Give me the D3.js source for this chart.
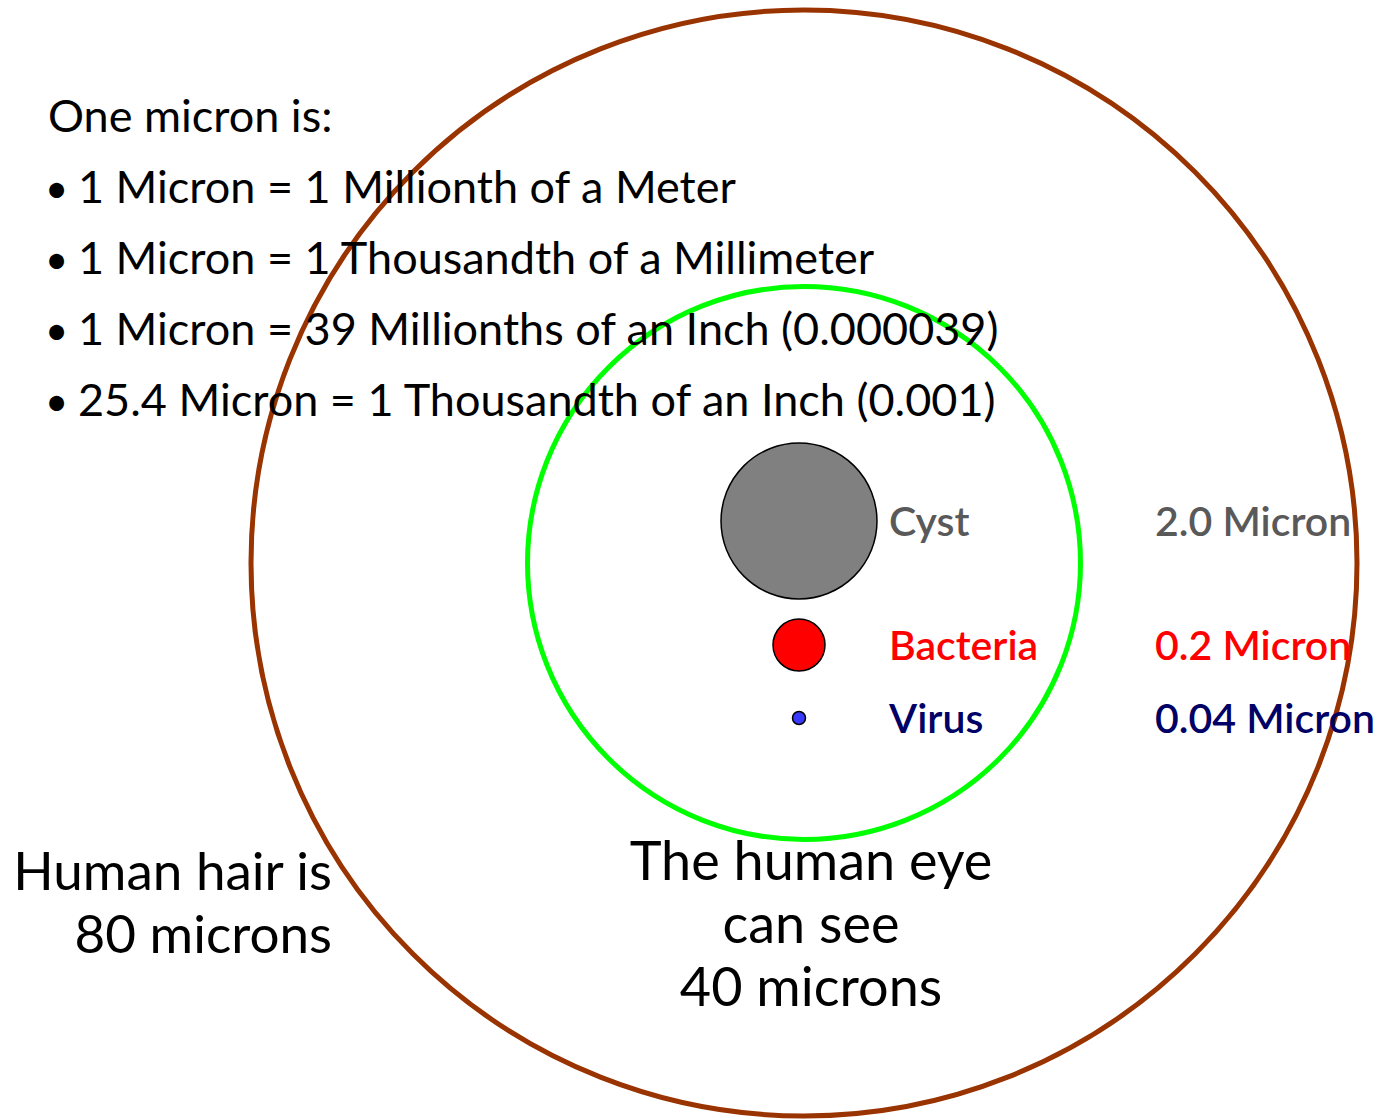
<!DOCTYPE html>
<html>
<head>
<meta charset="utf-8">
<script src="https://cdn.jsdelivr.net/npm/d3@7"></script>
<style>
  body { margin: 0; background: #fff; }
  svg { display: block; font-family: Lato, "Noto Sans", sans-serif; }
</style>
</head>
<body>
<script>
// rings: what the eye / a hair can resolve, in microns
var rings = ["Human hair", "Human eye"];
var ringMicrons = [80, 40];
var ringColors = ["#993300", "#00ff00"];

// particles drawn inside
var particles = ["Cyst", "Bacteria", "Virus"];
var particleMicrons = [2.0, 0.2, 0.04];
var particleSizeLabels = ["2.0 Micron", "0.2 Micron", "0.04 Micron"];
var particleFills = ["#808080", "#ff0000", "#3a3aff"];
var particleTextColors = ["#595959", "#ff0000", "#000066"];

var introTitle = "One micron is:";
var introLines = [
  "1 Micron = 1 Millionth of a Meter",
  "1 Micron = 1 Thousandth of a Millimeter",
  "1 Micron = 39 Millionths of an Inch (0.000039)",
  "25.4 Micron = 1 Thousandth of an Inch (0.001)"
];
var hairText = ["Human hair is", "80 microns"];
var eyeText = ["The human eye", "can see", "40 microns"];

var width = 1385,
    height = 1120,
    cx = 804,
    cy = 563;

var svg = d3.select("body").append("svg")
    .attr("width", width)
    .attr("height", height);

// big rings, linear in microns
var ringR = d3.scaleLinear().domain([0, 80]).range([0, 553]);

svg.append("g").selectAll("circle")
    .data(rings)
    .enter().append("circle")
    .attr("cx", cx)
    .attr("cy", cy)
    .attr("r", function(d, i) { return ringR(ringMicrons[i]); })
    .attr("fill", "none")
    .attr("stroke", function(d, i) { return ringColors[i]; })
    .attr("stroke-width", 5);

// small particles - log-ish size so the virus is still visible
var partR = d3.scaleLog().domain([0.04, 0.2, 2]).range([6.5, 26, 78]);
var rowY = d3.scaleOrdinal().domain(particles).range([521, 645, 718]);
var px = 799;

var rows = svg.append("g").selectAll("g")
    .data(particles)
    .enter().append("g");

rows.append("circle")
    .attr("cx", px)
    .attr("cy", function(d) { return rowY(d); })
    .attr("r", function(d, i) { return partR(particleMicrons[i]); })
    .attr("fill", function(d, i) { return particleFills[i]; })
    .attr("stroke", "#000")
    .attr("stroke-width", 1.5);

rows.append("text")
    .attr("x", 889)
    .attr("y", function(d) { return rowY(d) + 15; })
    .attr("fill", function(d, i) { return particleTextColors[i]; })
    .style("font-size", "41px")
    .style("font-weight", "600")
    .text(function(d) { return d; });

rows.append("text")
    .attr("x", 1155)
    .attr("y", function(d) { return rowY(d) + 15; })
    .attr("fill", function(d, i) { return particleTextColors[i]; })
    .style("font-size", "41px")
    .style("font-weight", "600")
    .text(function(d, i) { return particleSizeLabels[i]; });

// intro text
svg.append("text")
    .attr("x", 48)
    .attr("y", 132)
    .style("font-size", "45px")
    .text(introTitle);

var bullets = svg.append("g").selectAll("text")
    .data(introLines)
    .enter().append("text")
    .attr("y", function(d, i) { return 203 + i * 71; })
    .style("font-size", "45px");

bullets.append("tspan")
    .attr("x", 45)
    .style("font-size", "40px")
    .text("\u2022");
bullets.append("tspan")
    .attr("x", 78)
    .text(function(d) { return d; });

// bottom captions
svg.append("g").selectAll("text")
    .data(hairText)
    .enter().append("text")
    .attr("x", 332)
    .attr("y", function(d, i) { return 890 + i * 63; })
    .attr("text-anchor", "end")
    .style("font-size", "53px")
    .text(function(d) { return d; });

svg.append("g").selectAll("text")
    .data(eyeText)
    .enter().append("text")
    .attr("x", 811)
    .attr("y", function(d, i) { return 880 + i * 63; })
    .attr("text-anchor", "middle")
    .style("font-size", "54px")
    .text(function(d) { return d; });
</script>
</body>
</html>
